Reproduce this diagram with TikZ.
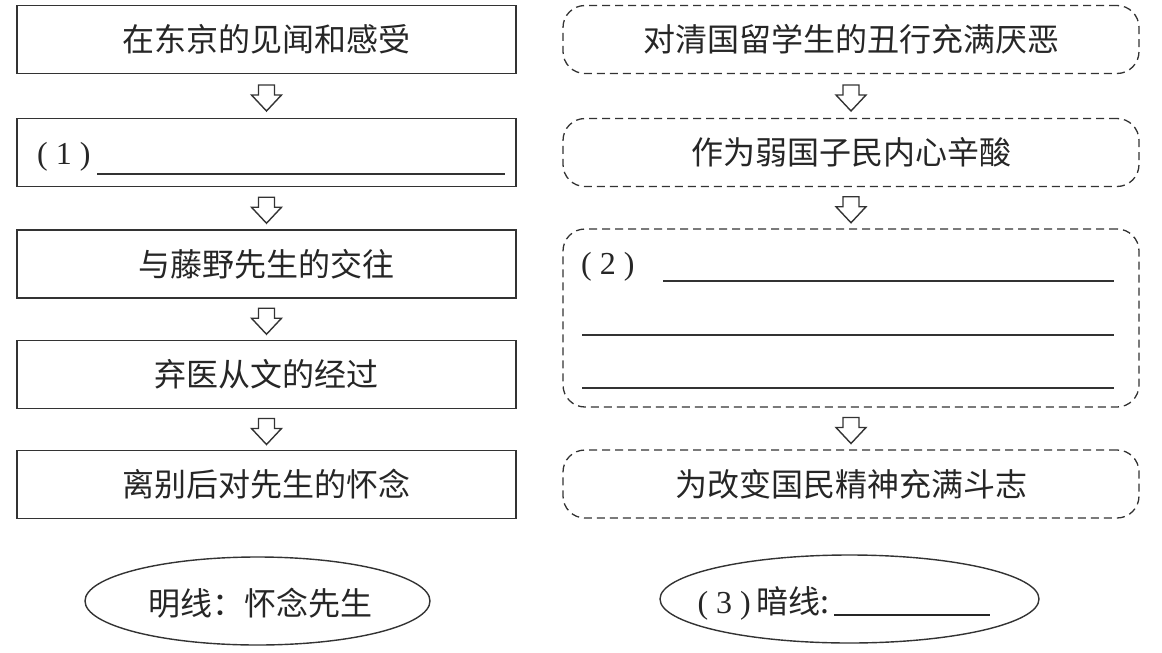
\documentclass[tikz,border=0pt]{standalone}
\usepackage{fontspec}
\newfontfamily\cjk{Noto Sans CJK SC}
\newfontfamily\lat{Liberation Serif}
\usetikzlibrary{calc,shapes.geometric}
\tikzset{>=stealth}

\begin{document}
\begin{tikzpicture}[x=1pt,y=-1pt,
    box/.style={draw=black!80,line width=1.6pt,minimum width=499pt,minimum height=68pt,inner sep=0pt,text=black!85,font=\cjk\fontsize{32}{38}\selectfont},
    dbox/.style={box,dash pattern=on 8pt off 5pt,line width=1.3pt,rounded corners=22pt,minimum width=576pt},
    oval/.style={ellipse,draw=black!80,line width=1.4pt,inner sep=0pt,minimum height=88pt},
    label/.style={inner sep=0pt,text=black!85,font=\cjk\fontsize{32}{38}\selectfont},
    num/.style={anchor=west,inner sep=0pt,text=black!85,font=\lat\fontsize{32}{38}\selectfont},
    blank/.style={line width=1.6pt,draw=black!80},
    downarr/.pic={\draw[line width=1.4pt,draw=black!80,line join=miter]
      (-8,-13) -- (8,-13) -- (8,-3) -- (15,-3) -- (0,13) -- (-15,-3) -- (-8,-3) -- cycle;}]
  \useasboundingbox (0,0) rectangle (1162,653);
  % left column
  \node[box] (l1) at (266.5,39.5) {在东京的见闻和感受};
  \node[box] (l2) at (266.5,152.5) {};
  \node[box] (l3) at (266.5,264) {与藤野先生的交往};
  \node[box] (l4) at (266.5,374.5) {弃医从文的经过};
  \node[box] (l5) at (266.5,484.5) {离别后对先生的怀念};
  \node[num] (q1) at (37,157) {( 1 )};
  \draw[blank] (97,174) -- (505,174);
  % right column
  \node[dbox] (r1) at (851,39.5) {对清国留学生的丑行充满厌恶};
  \node[dbox] (r2) at (851,152.5) {作为弱国子民内心辛酸};
  \node[dbox,minimum height=178pt] (r3) at (851,318) {};
  \node[dbox] (r4) at (851,484) {为改变国民精神充满斗志};
  \node[num] (q2) at (581,267) {( 2 )};
  \draw[blank] (663,281) -- (1114,281);
  \draw[blank] (582,335) -- (1114,335);
  \draw[blank] (582,388) -- (1114,388);
  % arrows
  \foreach \a/\b in {l1/l2,l2/l3,l3/l4,l4/l5,r1/r2,r2/r3,r3/r4}
    \pic at ($(\a.south)!.5!(\b.north)+(0,2)$) {downarr};
  % bottom
  \node[oval,minimum width=345pt] (ming) at (257.5,601) {};
  \node[label] (mingt) at (260.5,603) {明线：怀念先生};
  \node[oval,minimum width=379pt] (an) at (849.5,599) {};
  \node[label] (ant) at (844,603) {{\lat( 3 )}\,暗线:\,\rule[-3pt]{156pt}{1.6pt}};
\end{tikzpicture}
\end{document}
